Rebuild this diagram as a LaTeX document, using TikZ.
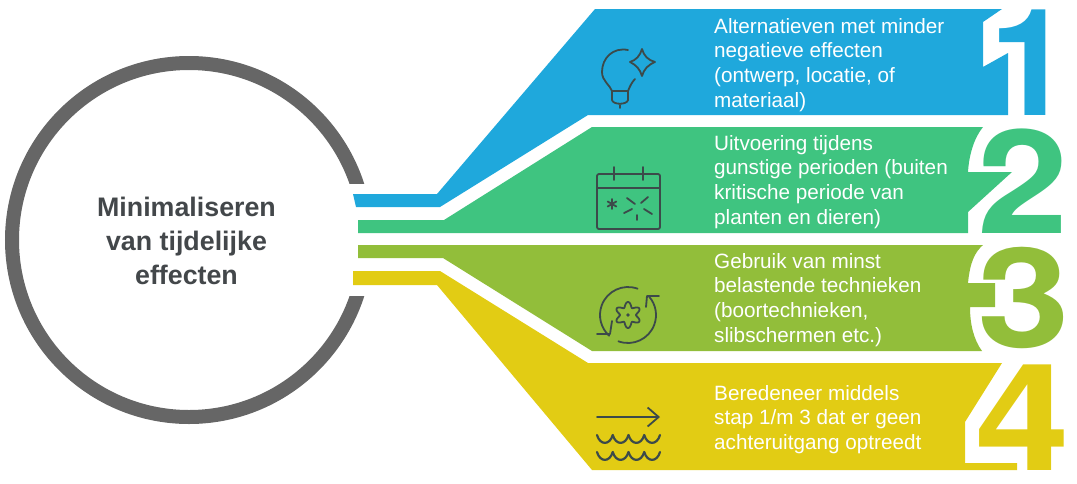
\documentclass[tikz,border=0pt]{standalone}
\usepackage{fontspec}
\setmainfont{Liberation Sans}
\newfontfamily\digitfont{TeX Gyre Heros}
\usetikzlibrary{arrows.meta, positioning}
\definecolor{mBlue}{HTML}{1FA8DC}
\definecolor{mGreen}{HTML}{3FC480}
\definecolor{mOlive}{HTML}{92BE3A}
\definecolor{mYellow}{HTML}{E2CC14}
\definecolor{mRing}{HTML}{666666}
\definecolor{mInk}{HTML}{3C4A4A}
\definecolor{mTitle}{HTML}{43474A}
\begin{document}
\begin{tikzpicture}[x=1pt, y=-1pt,
      lbl/.style={anchor=north west, align=left, text=white, inner sep=0pt, font=\fontsize{20.7}{24.7}\selectfont},
      digit/.style={anchor=base east, inner sep=0pt, font=\digitfont\bfseries\fontsize{149}{149}\selectfont},
      ico/.style={draw=mInk, line width=1.8pt, line cap=round, line join=round}]
    \useasboundingbox (0,0) rectangle (1077,483);
    % ring
    \coordinate (ringc) at (189,240);
    \draw[mRing, line width=14pt] (ringc) circle[radius=177];
    \fill[white] (340,184) rectangle (380,296);
    \node[align=center, text=mTitle, font=\fontsize{26.8}{33.7}\selectfont\bfseries] (title) at (186.5,241) {Minimaliseren\\van tijdelijke\\effecten};
    % bands
    \fill[mBlue] (353,194) -- (437,194) -- (595,9) -- (1002,9) -- (983,22) -- (983,67) -- (1008,53) -- (1008,115) -- (588,115) -- (440,207) -- (356,207) -- cycle;
    \fill[mGreen] (358,220) -- (444,220) -- (592,127) -- (983,127) .. controls (974,138) and (969,155) .. (968,172) -- (1012,172) -- (968,212) -- (968,233) -- (358,233) -- cycle;
    \fill[mOlive] (358,245) -- (983,245) .. controls (975,252) and (970,262) .. (968,283) -- (995,283) -- (995,307) -- (970,307) .. controls (970,325) and (974,340) .. (982,351) -- (592,351) -- (443,258) -- (358,258) -- cycle;
    \fill[mYellow] (353,271) -- (440,271) -- (588,363) -- (1002,363) -- (965,422) -- (965,463) -- (1017,463) -- (1017,470) -- (592,470) -- (437,285) -- (353,285) -- cycle;
    % digits
    \node[digit, text=mBlue] (d1) at (1073,115) {1};
    \node[digit, text=mGreen] (d2) at (1069,233) {\scalebox{1.1}[.97]{2}};
    \node[digit, text=mOlive] (d3) at (1070,347.5) {\scalebox{1.12}[.93]{3}};
    \node[digit, text=mYellow] (d4) at (1070,470) {\scalebox{1.14}[1]{4}};
    % texts
    \node[lbl] (t1) at (714,18) {Alternatieven met minder\\negatieve effecten\\(ontwerp, locatie, of\\materiaal)};
    \node[lbl] (t2) at (714,135) {Uitvoering tijdens\\gunstige perioden (buiten\\kritische periode van\\planten en dieren)};
    \node[lbl] (t3) at (714,253) {Gebruik van minst\\belastende technieken\\(boortechnieken,\\slibschermen etc.)};
    \node[lbl] (t4) at (714,385) {Beredeneer middels\\stap 1/m 3 dat er geen\\achteruitgang optreedt};
    % lamp icon
    \draw[ico] (628,50) .. controls (613,47) and (602,58) .. (602,72) .. controls (602,81) and (610,85) .. (612,91) -- (628,91) .. controls (630,86) and (632,82) .. (635,79);
    \draw[ico] (612,91) -- (612,100) .. controls (613,105) and (627,105) .. (628,100) -- (628,91);
    \draw[ico] (620,105) -- (620,108);
    \draw[ico] (642,49) .. controls (644,56) and (648,60) .. (655,62) .. controls (648,65) and (644,69) .. (642,76) .. controls (640,69) and (636,65) .. (630,62) .. controls (636,60) and (640,56) .. (642,49) -- cycle;
    % calendar icon
    \draw[ico, rounded corners=2pt] (597,174) rectangle (660,229);
    \draw[ico] (597,188) -- (660,188);
    \draw[ico] (614,167) -- (614,180);
    \draw[ico] (643,167) -- (643,180);
    \foreach \ang in {30,90,150}
      \draw[ico] (612,204) ++(\ang:5) -- ++(\ang+180:10);
    \foreach \a/\b/\c/\d in {627/198/635/204, 648/197/641/203, 624/213/632/209, 652/214/644/209, 637/215/637/220}
      \draw[ico] (\a,\b) -- (\c,\d);
    % gear icon
    \draw[ico] (628,315) ++(-70:28) arc[start angle=-70, end angle=-228, radius=28];
    \draw[ico] (597,334) -- (610,334) -- (612,321);
    \draw[ico] (628,315) ++(110:28) arc[start angle=110, end angle=-41, radius=28];
    \draw[ico] (659,296) -- (647,296) -- (646,307);
    \draw[ico] plot[domain=0:360, samples=145] ({628+(10.5-2.5*cos(6*\x))*cos(\x)},{315+(10.5-2.5*cos(6*\x))*sin(\x)}) -- cycle;
    \fill[mInk] (628,315) circle[radius=1.8];
    % wave icon
    \draw[ico, -{Straight Barb[length=11pt,width=19pt]}] (597,417) -- (660,417);
    \foreach \yy in {435,452}
      \foreach \xx in {597,612.75,628.5,644.25}
        \draw[ico, line width=2.2pt] (\xx,\yy) .. controls (\xx+3,\yy+10.5) and (\xx+12.75,\yy+10.5) .. (\xx+15.75,\yy);
  \end{tikzpicture}
\end{document}
